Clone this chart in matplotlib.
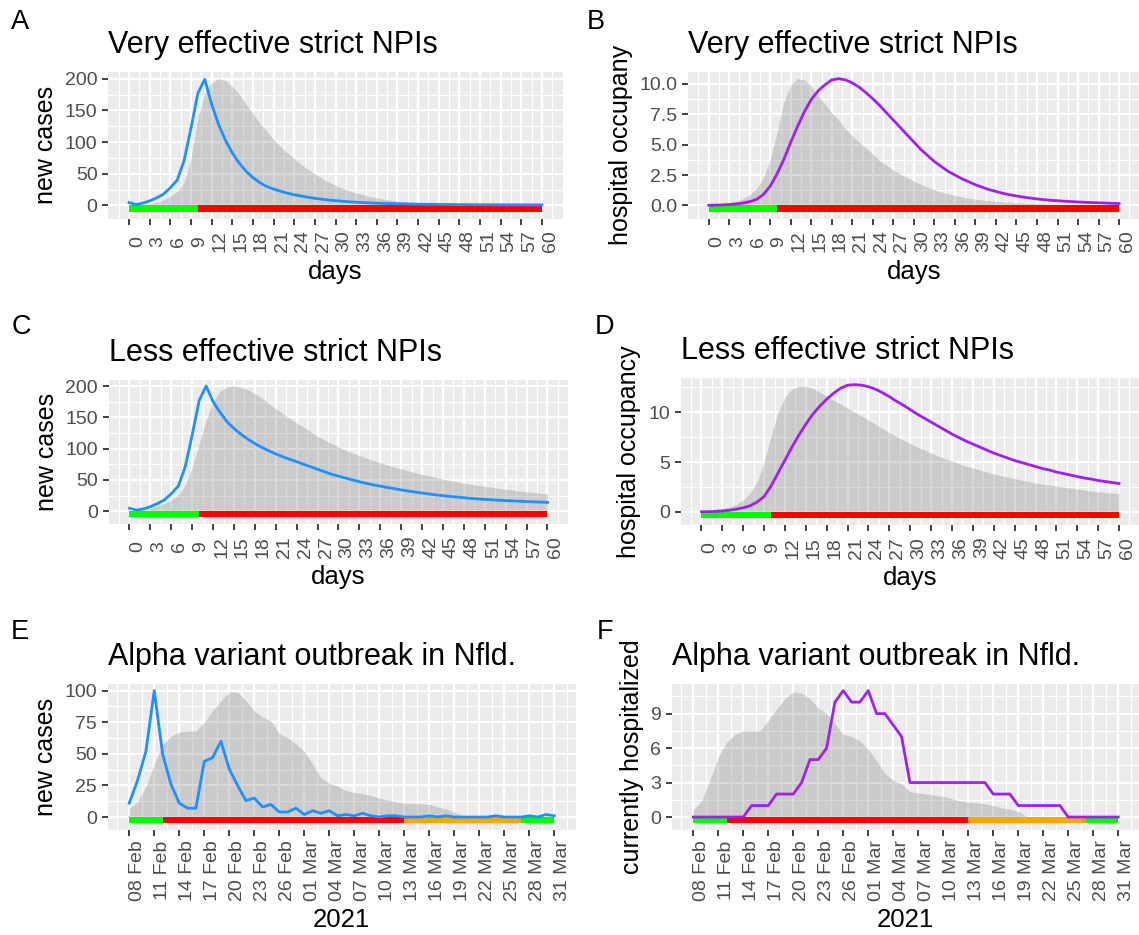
import numpy as np
import pandas as pd
import matplotlib
matplotlib.use("Agg")
import matplotlib.pyplot as plt
import matplotlib.dates as mdates
from matplotlib.ticker import FixedLocator

plt.rcParams['font.family'] = ['Liberation Sans', 'DejaVu Sans']

# ---- data -------------------------------------------------------------
days = np.arange(61)
dates = pd.date_range('2021-02-08', '2021-03-31', freq='D')

# A: very effective strict NPIs, new cases (line) and reference (grey area)
cases_very = [4.7, 1.6, 3.7, 7.3, 12, 18, 28, 40, 71, 122, 177, 199, 160, 128, 103, 83, 67, 54, 44, 36,
              30, 26, 22.5, 19.5, 17, 15, 13, 11.3, 9.9, 8.7, 7.6, 6.7, 5.9, 5.2, 4.6, 4.1, 3.7, 3.3, 3.0, 2.7,
              2.5, 2.3, 2.1, 1.9, 1.8, 1.7, 1.6, 1.5, 1.4, 1.35, 1.3, 1.25, 1.2, 1.15, 1.1, 1.1, 1.05, 1.05, 1.0, 1.0, 1.0]
cases_very_ref = [0.5, 0.8, 1.5, 2.5, 5, 9, 15, 22, 36, 75, 138, 177, 194, 200, 197, 188, 175, 160, 145, 130,
                  117, 104, 93, 83, 74, 65, 57, 50, 43, 37, 32, 27, 23, 20, 17, 14, 12, 10, 8.5, 7,
                  6, 5, 4.2, 3.5, 3, 2.5, 2.1, 1.8, 1.5, 1.3, 1.1, 1, 0.9, 0.8, 0.7, 0.6, 0.55, 0.5, 0.45, 0.4, 0.4]

# B: very effective strict NPIs, hospital occupancy
hosp_very = [0.02, 0.03, 0.05, 0.08, 0.13, 0.2, 0.32, 0.5, 0.9, 1.6, 2.6, 3.8, 5.2, 6.5, 7.7, 8.7, 9.4, 9.9, 10.3, 10.4,
             10.3, 10.05, 9.7, 9.25, 8.75, 8.2, 7.6, 7.0, 6.4, 5.8, 5.2, 4.6, 4.1, 3.6, 3.2, 2.8, 2.5, 2.2, 1.95, 1.7,
             1.5, 1.3, 1.15, 1.0, 0.88, 0.78, 0.69, 0.61, 0.54, 0.48, 0.43, 0.39, 0.35, 0.32, 0.29, 0.26, 0.24, 0.22, 0.2, 0.18, 0.16]
hosp_very_ref = [0.05, 0.08, 0.12, 0.2, 0.35, 0.55, 0.9, 1.4, 2.3, 3.8, 6.0, 8.5, 9.9, 10.4, 10.3, 9.8, 9.0, 8.3, 7.6, 7.0,
                 6.3, 5.7, 5.2, 4.7, 4.2, 3.7, 3.3, 2.9, 2.6, 2.3, 2.0, 1.75, 1.5, 1.3, 1.1, 0.95, 0.82, 0.7, 0.6, 0.52,
                 0.45, 0.39, 0.34, 0.3, 0.26, 0.23, 0.2, 0.18, 0.16, 0.14, 0.13, 0.12, 0.11, 0.1, 0.09, 0.08, 0.08, 0.07, 0.07, 0.06, 0.06]

# C: less effective strict NPIs, new cases
cases_less = [4.7, 1.6, 3.7, 7.3, 12, 18, 28, 40, 71, 122, 177, 200, 175, 158, 143, 132, 123, 115, 108, 102,
              96.5, 91.5, 87, 83, 79, 75, 71, 67, 63, 59, 56, 53, 50, 47, 44.5, 42, 40, 38, 36, 34,
              32.2, 30.5, 29, 27.5, 26, 24.8, 23.6, 22.5, 21.5, 20.5, 19.6, 18.9, 18.2, 17.5, 16.9, 16.4, 15.9, 15.4, 14.9, 14.5, 14.1]
cases_less_ref = [1, 2, 3, 5, 8, 12, 18, 26, 42, 70, 108, 145, 175, 192, 199, 200, 198, 194, 188, 181,
                  172, 164, 156, 148, 141, 134, 127, 120, 114, 108, 103, 98, 93, 89, 85, 81, 77.5, 74, 70.5, 67.5,
                  64.5, 61.5, 59, 56.5, 54, 51.5, 49, 47, 45, 43, 41.3, 39.6, 38, 36.5, 35, 33.6, 32.3, 31, 29.8, 28.6, 27.5]

# D: less effective strict NPIs, hospital occupancy
hosp_less = [0.02, 0.03, 0.06, 0.1, 0.17, 0.28, 0.42, 0.62, 1.0, 1.55, 2.6, 3.9, 5.2, 6.5, 7.7, 8.8, 9.8, 10.6, 11.3, 11.9,
             12.4, 12.7, 12.75, 12.7, 12.55, 12.3, 11.95, 11.55, 11.1, 10.7, 10.25, 9.8, 9.4, 9.0, 8.6, 8.2, 7.8, 7.45, 7.1, 6.8,
             6.5, 6.2, 5.9, 5.65, 5.4, 5.15, 4.95, 4.75, 4.55, 4.35, 4.2, 4.0, 3.85, 3.7, 3.55, 3.4, 3.3, 3.15, 3.05, 2.95, 2.85]
hosp_less_ref = [0.1, 0.15, 0.25, 0.35, 0.5, 0.75, 1.2, 1.9, 3.0, 5.0, 7.6, 10.0, 11.5, 12.3, 12.6, 12.6, 12.4, 12.0, 11.6, 11.2,
                 10.8, 10.4, 10.0, 9.6, 9.2, 8.8, 8.35, 7.95, 7.55, 7.2, 6.85, 6.5, 6.2, 5.9, 5.6, 5.35, 5.1, 4.85, 4.6, 4.4,
                 4.2, 4.0, 3.8, 3.65, 3.5, 3.35, 3.2, 3.05, 2.9, 2.8, 2.7, 2.6, 2.5, 2.4, 2.3, 2.2, 2.1, 2.0, 1.95, 1.9, 1.85]

# E-F: Alpha variant outbreak in Newfoundland
nfld_cases = [11, 29, 52, 100, 50, 26, 11, 7, 7, 44, 47, 60, 38, 25, 13, 15, 8, 10, 4, 4,
              7, 2, 5, 3, 5, 1, 2, 1, 3, 1, 0, 1, 1, 0, 0, 0, 1, 0, 1, 0,
              0, 0, 0, 0, 1, 0, 0, 0, 1, 0, 2, 1]
nfld_cases_ref = [6.6, 12, 24, 42, 57, 64, 67, 68, 68, 75, 84, 92, 99, 99, 92, 84, 79, 76, 66, 63,
                  58, 52, 42, 31, 27, 24.5, 21, 19.5, 18.5, 17, 15, 13.5, 12, 11, 10.8, 10.5, 10, 8, 6.5, 4,
                  1, 0.5, 0.5, 0.5, 0.5, 0.5, 0.5, 0.5, 0.5, 0.5, 0.5, 0.5]
nfld_hosp = [0, 0, 0, 0, 0, 0, 0, 1, 1, 1, 2, 2, 2, 3, 5, 5, 6, 10, 11, 10,
             10, 11, 9, 9, 8, 7, 3, 3, 3, 3, 3, 3, 3, 3, 3, 3, 2, 2, 2, 1,
             1, 1, 1, 1, 1, 0, 0, 0, 0, 0, 0, 0]
nfld_hosp_ref = [0.6, 1.4, 3.2, 5.2, 6.5, 7.2, 7.5, 7.5, 7.5, 8.4, 9.4, 10.3, 10.9, 10.8, 10.3, 9.5, 9.0, 8.1, 7.2, 7.0,
                 6.6, 5.9, 4.9, 3.8, 3.2, 2.9, 2.2, 2.1, 2.0, 1.9, 1.8, 1.6, 1.4, 1.3, 1.25, 1.15, 1.0, 0.8, 0.7, 0.5,
                 0.05, 0, 0, 0, 0, 0, 0, 0, 0, 0, 0, 0]

# NPI periods (green = loose, red = strict, orange = easing)
sim_phases = [(0, 10, '#00FF00'), (10, 60, '#FF0000')]
nfld_phases = [('2021-02-08', '2021-02-12', '#00FF00'), ('2021-02-12', '2021-03-13', '#FF0000'),
               ('2021-03-13', '2021-03-27', '#FFA500'), ('2021-03-27', '2021-03-31', '#00FF00')]

# ---- figure -----------------------------------------------------------
W, H = 1139, 935
fig = plt.figure(figsize=(W / 100, H / 100), dpi=100)


def add_axes(l, t, r, b):
    # pixel box -> figure fraction
    return fig.add_axes([l / W, 1 - b / H, (r - l) / W, (b - t) / H])


def draw(ax, x, line, ref, colour, phases, title, ylabel, yticks, ylabels,
         xticks, xlabels, xlim, xminor, xlabel, xpad, xlabelpad):
    top = max(max(line), max(ref))
    lo = -0.05 * top
    ax.set_facecolor('#EBEBEB')
    ax.fill_between(x, 0, ref, color='#7F7F7F', alpha=0.3, lw=0, zorder=2)
    for x0, x1, c in phases:
        ax.fill_between([x0, x1], lo, 0, color=c, lw=0, zorder=3)
    ax.plot(x, line, color=colour, lw=2.0, zorder=4)

    pad = 0.05 * (top - lo)
    ax.set_ylim(lo - pad, top + pad)
    ax.set_xlim(*xlim)

    ax.set_yticks(yticks, labels=ylabels)
    step = yticks[1] - yticks[0]
    ax.yaxis.set_minor_locator(FixedLocator(np.arange(yticks[0] - step / 2, top + step, step)))
    ax.set_xticks(xticks, labels=xlabels)
    ax.xaxis.set_minor_locator(FixedLocator(xminor))

    ax.grid(which='major', color='white', lw=1.6)
    ax.grid(which='minor', color='white', lw=0.8)
    ax.set_axisbelow(True)
    for s in ax.spines.values():
        s.set_visible(False)

    ax.tick_params(which='major', length=4.3, width=1.3, color='#333333',
                   labelsize=14, labelcolor='#4D4D4D')
    ax.tick_params(which='minor', length=0)
    ax.tick_params(axis='y', pad=3.5)
    ax.tick_params(axis='x', pad=xpad, labelrotation=90)
    for lab in ax.get_xticklabels():
        lab.set_ha('left')
        lab.set_va('center')

    ax.set_title(title, loc='left', fontsize=22, pad=13.5)
    ax.set_xlabel(xlabel, fontsize=18.5, labelpad=xlabelpad)
    ax.set_ylabel(ylabel, fontsize=18, labelpad=4.7)


day_ticks = np.arange(0, 61, 3)
day_labels = [str(d) for d in day_ticks]
day_minor = np.arange(-1.5, 64, 3)

xnum = mdates.date2num(dates.to_pydatetime())
nfld_ticks = xnum[::3]
nfld_labels = dates[::3].strftime('%d %b')
nfld_minor = xnum[0] + np.arange(-1.5, 55, 3)
nfld_num_phases = [(mdates.date2num(pd.Timestamp(a)), mdates.date2num(pd.Timestamp(b)), c)
                   for a, b, c in nfld_phases]

ax = add_axes(108.4, 72, 562.6, 218.5)
draw(ax, days, cases_very, cases_very_ref, '#1E90FF', sim_phases, 'Very effective strict NPIs',
     'new cases', [0, 50, 100, 150, 200], ['0', '50', '100', '150', '200'],
     day_ticks, day_labels, (-3, 63), day_minor, 'days', 12, 5.5)

ax = add_axes(688.2, 72, 1139.6, 218.5)
draw(ax, days, hosp_very, hosp_very_ref, '#A020F0', sim_phases, 'Very effective strict NPIs',
     'hospital occupany', [0, 2.5, 5, 7.5, 10], ['0.0', '2.5', '5.0', '7.5', '10.0'],
     day_ticks, day_labels, (-3, 63), day_minor, 'days', 12, 5.5)

ax = add_axes(108.6, 379.5, 568.4, 524)
draw(ax, days, cases_less, cases_less_ref, '#1E90FF', sim_phases, 'Less effective strict NPIs',
     'new cases', [0, 50, 100, 150, 200], ['0', '50', '100', '150', '200'],
     day_ticks, day_labels, (-3, 63), day_minor, 'days', 12, 5.5)

ax = add_axes(680.6, 378, 1139.9, 525)
draw(ax, days, hosp_less, hosp_less_ref, '#A020F0', sim_phases, 'Less effective strict NPIs',
     'hospital occupancy', [0, 5, 10], ['0', '5', '10'],
     day_ticks, day_labels, (-3, 63), day_minor, 'days', 12, 5.5)

ax = add_axes(108, 684, 575.5, 830)
draw(ax, xnum, nfld_cases, nfld_cases_ref, '#1E90FF', nfld_num_phases, 'Alpha variant outbreak in Nfld.',
     'new cases', [0, 25, 50, 75, 100], ['0', '25', '50', '75', '100'],
     nfld_ticks, nfld_labels, (xnum[0] - 2.55, xnum[-1] + 2.55), nfld_minor, '2021', 25, 5)

ax = add_axes(672, 684, 1139.5, 830)
draw(ax, xnum, nfld_hosp, nfld_hosp_ref, '#A020F0', nfld_num_phases, 'Alpha variant outbreak in Nfld.',
     'currently hospitalized', [0, 3, 6, 9], ['0', '3', '6', '9'],
     nfld_ticks, nfld_labels, (xnum[0] - 2.55, xnum[-1] + 2.55), nfld_minor, '2021', 25, 5)

# panel letters
for letter, px, py in [('A', 11, 29), ('B', 587, 29), ('C', 12, 334),
                       ('D', 595, 334), ('E', 11, 639), ('F', 597, 639)]:
    fig.text(px / W, 1 - py / H, letter, fontsize=19.5, va='baseline', ha='left')

fig.savefig('out.png', dpi=100)
